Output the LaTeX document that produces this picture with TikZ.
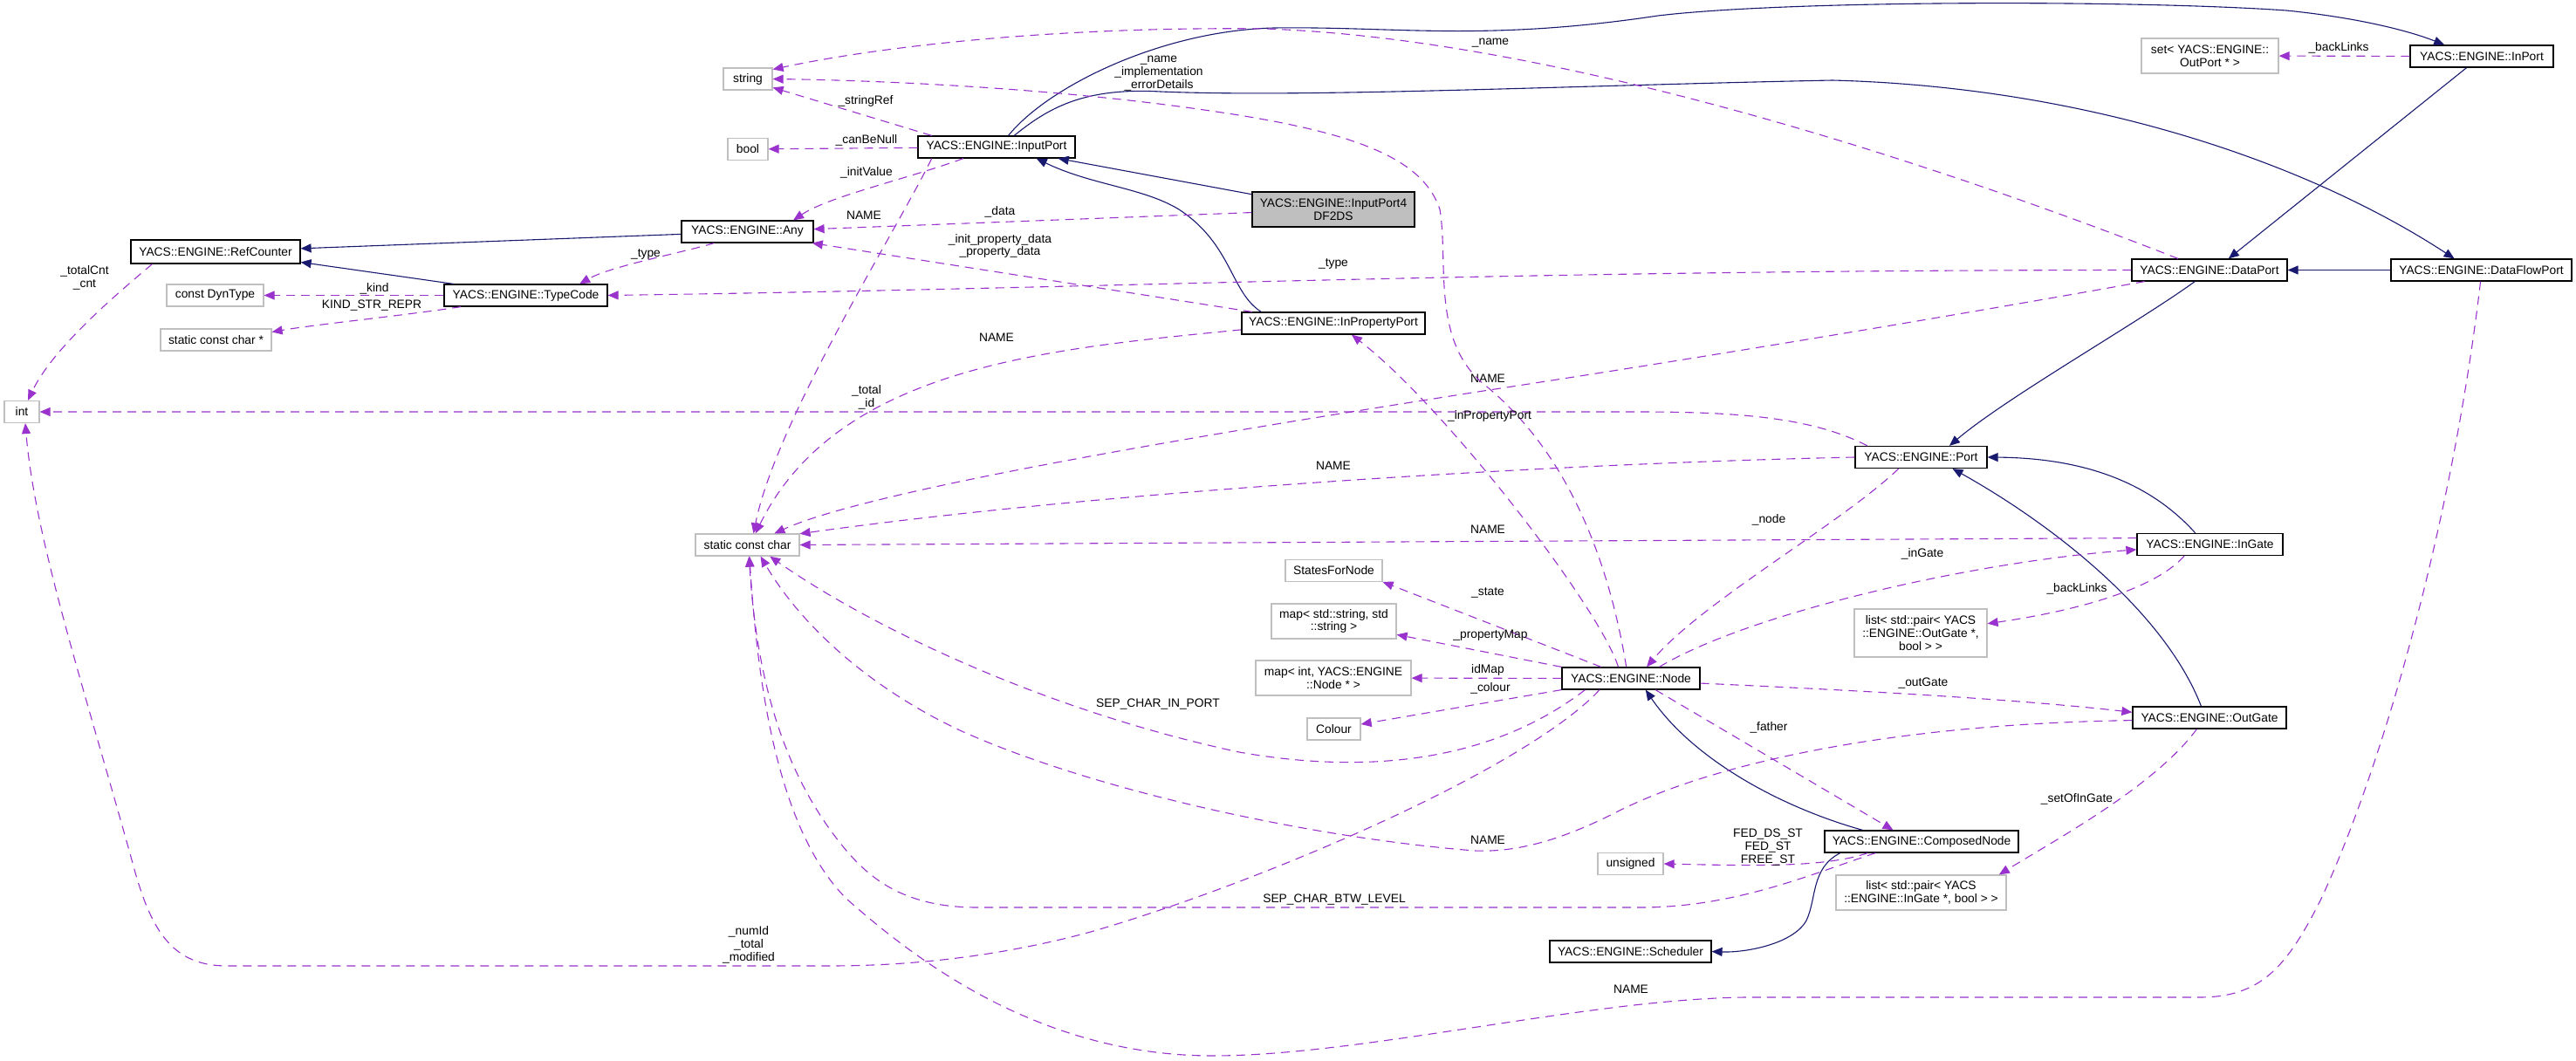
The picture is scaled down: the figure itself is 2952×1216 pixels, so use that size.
\documentclass[tikz,border=0pt]{standalone}
\usepackage{fontspec}
\setmainfont{Liberation Sans}
\usetikzlibrary{positioning,arrows.meta}
\definecolor{edgeblue}{HTML}{191970}
\definecolor{edgepurple}{HTML}{9A32CD}
\definecolor{boxgray}{HTML}{BFBFBF}

\begin{document}
\begin{tikzpicture}[x=0.5pt, y=-0.5pt,
    font=\fontsize{6.9}{7.4}\selectfont,
    cls/.style={rectangle, draw=black, line width=0.6pt, fill=white, align=center, inner sep=1pt, minimum height=12.5pt},
    ext/.style={cls, draw=boxgray},
    self/.style={cls, fill=boxgray},
    inh/.style={draw=edgeblue, line width=0.55pt, -{Triangle[length=6pt,width=5pt]}},
    member/.style={draw=edgepurple, line width=0.55pt, dash pattern=on 5pt off 3.5pt, -{Triangle[length=6pt,width=5pt]}},
    lbl/.style={align=center, inner sep=0pt}]

\useasboundingbox (0,0) rectangle (2952,1216);

\node[ext, minimum width=28pt] (string) at (857,90.5) {string};
\node[ext, minimum width=23pt] (bool) at (857,171) {bool};
\node[cls, minimum width=75.5pt] (any) at (856.5,265.5) {YACS::ENGINE::Any};
\node[cls, minimum width=97pt, minimum height=13.5pt] (refcounter) at (247,288.5) {YACS::ENGINE::RefCounter};
\node[cls, minimum width=93.5pt] (typecode) at (602.5,338.5) {YACS::ENGINE::TypeCode};
\node[ext, minimum width=55.5pt] (dyntype) at (246.5,338.5) {const DynType};
\node[ext, minimum width=63.5pt] (sccs) at (247.5,389.5) {static const char *};
\node[ext, minimum width=20pt] (int) at (25,472) {int};
\node[ext, minimum width=59.5pt] (scc) at (856.5,624.5) {static const char};
\node[cls, minimum width=90pt] (inputport) at (1142,168.5) {YACS::ENGINE::InputPort};
\node[self, minimum width=93pt, minimum height=20pt] (ip4) at (1528,240) {YACS::ENGINE::InputPort4\\DF2DS};
\node[cls, minimum width=105pt] (inprop) at (1528,370.5) {YACS::ENGINE::InPropertyPort};
\node[ext, minimum width=78.5pt, minimum height=20pt] (setout) at (2532.5,64) {set< YACS::ENGINE::\\OutPort * >};
\node[cls, minimum width=82pt] (inport) at (2844,64.5) {YACS::ENGINE::InPort};
\node[cls, minimum width=89pt] (dataport) at (2532,309.5) {YACS::ENGINE::DataPort};
\node[cls, minimum width=103.5pt] (dfport) at (2843.5,309.5) {YACS::ENGINE::DataFlowPort};
\node[cls, minimum width=75.5pt] (port) at (2201.5,524) {YACS::ENGINE::Port};
\node[cls, minimum width=79pt] (node) at (1869,777.5) {YACS::ENGINE::Node};
\node[ext, minimum width=55.5pt] (states) at (1528.5,654) {StatesForNode};
\node[ext, minimum width=71.5pt, minimum height=20pt] (mapss) at (1528.5,712) {map< std::string, std\\::string >};
\node[ext, minimum width=89pt, minimum height=20pt] (mapin) at (1528,777) {map< int, YACS::ENGINE\\::Node * >};
\node[ext, minimum width=30.5pt] (colour) at (1528.5,835.5) {Colour};
\node[cls, minimum width=83.5pt] (ingate) at (2532.5,624) {YACS::ENGINE::InGate};
\node[ext, minimum width=76pt, minimum height=27.5pt] (listout) at (2201,725.5) {list< std::pair< YACS\\::ENGINE::OutGate *,\\bool > >};
\node[cls, minimum width=88pt] (outgate) at (2532,822.5) {YACS::ENGINE::OutGate};
\node[ext, minimum width=37.5pt] (unsigned) at (1868.5,990) {unsigned};
\node[cls, minimum width=92.5pt] (scheduler) at (1868.5,1090.5) {YACS::ENGINE::Scheduler};
\node[cls, minimum width=111pt] (composed) at (2202,964.5) {YACS::ENGINE::ComposedNode};
\node[ext, minimum width=97.5pt, minimum height=20pt] (listin) at (2201.5,1023) {list< std::pair< YACS\\::ENGINE::InGate *, bool > >};

\draw[inh] (ip4) -- (inputport);
\draw[inh] (inprop.171) .. controls (1410,335) and (1412,280) .. (1351,240) .. controls (1310,215) and (1250,212) .. (inputport.-16);
\draw[inh] (inputport.44) .. controls (1200,100) and (1330,35) .. (1460,32) .. controls (1600,30) and (1700,48) .. (1900,18) .. controls (2050,0) and (2450,0) .. (2620,12) .. controls (2700,20) and (2760,35) .. (inport.163);
\draw[inh] (inputport.33) .. controls (1200,125) and (1240,100) .. (1330,105) .. controls (1500,112) and (1800,98) .. (2100,92) .. controls (2400,100) and (2650,190) .. (dfport.157);
\draw[inh] (inport.-143) -- (dataport.31);
\draw[inh] (dfport) -- (dataport);
\draw[inh] (dataport.-142) .. controls (2450,370) and (2300,455) .. (port.22);
\draw[inh] (ingate.142) .. controls (2470,560) and (2400,525) .. (port.east);
\draw[inh] (outgate.126) .. controls (2480,700) and (2350,600) .. (port.-20);
\draw[inh] (any) -- (refcounter);
\draw[inh] (typecode.171) -- (refcounter.-7);
\draw[inh] (composed.169) .. controls (2040,925) and (1940,870) .. (node.-38);
\draw[inh] (composed.-172) .. controls (2075,995) and (2082,1030) .. (2070,1055) .. controls (2055,1082) and (2000,1092) .. (scheduler.east);

\draw[member] (inputport.170) -- (string.-19) node[lbl] at (992,116) {\_stringRef};
\draw[member] (inputport) -- (bool) node[lbl] at (993,161) {\_canBeNull};
\draw[member] (inputport.-161) .. controls (1040,205) and (950,225) .. (any.14) node[lbl] at (993,198) {\_initValue};
\draw[member] (inputport.-170) .. controls (1030,260) and (890,480) .. (scc.62) node[lbl] at (990,247) {NAME};
\draw[member] (ip4) -- (any) node[lbl] at (1146,243) {\_data};
\draw[member] (inprop.172) -- (any.-10) node[lbl] at (1146,282) {\_init\_property\_data\\\_property\_data};
\draw[member] (inprop.-176) .. controls (1200,400) and (960,420) .. (scc.55) node[lbl] at (1142,387) {NAME};
\draw[member] (any.-161) .. controls (780,290) and (700,305) .. (typecode.12) node[lbl] at (740,291) {\_type};
\draw[member] (typecode) -- (dyntype) node[lbl] at (429,331) {\_kind};
\draw[member] (typecode.-170) .. controls (460,362) and (360,372) .. (sccs.8) node[lbl] at (426,350) {KIND\_STR\_REPR};
\draw[member] (refcounter.-169) .. controls (130,340) and (60,400) .. (int.62) node[lbl] at (97,318) {\_totalCnt\\\_cnt};
\draw[member] (inport) -- (setout) node[lbl] at (2680,55) {\_backLinks};
\draw[member] (dataport.west) .. controls (1700,310) and (1300,330) .. (typecode.east) node[lbl] at (1528,302) {\_type};
\draw[member] (dataport.160) .. controls (2250,200) and (1800,45) .. (1450,33) .. controls (1200,30) and (1000,55) .. (string.21) node[lbl] at (1708,49) {\_name};
\draw[member] (dataport.-170) .. controls (2250,360) and (1950,410) .. (1700,448) .. controls (1400,495) and (1000,560) .. (scc.23) node[lbl] at (1705,434) {NAME};
\draw[member] (dfport.-94) .. controls (2810,600) and (2730,880) .. (2660,1030) .. controls (2620,1110) and (2590,1143) .. (2520,1143) -- (2000,1143) .. controls (1820,1145) and (1560,1210) .. (1390,1210) .. controls (1200,1210) and (1060,1110) .. (970,1030) .. controls (890,950) and (868,780) .. (scc.-80) node[lbl] at (1869,1134) {NAME};
\draw[member] (port.168) .. controls (2080,480) and (2000,472) .. (1880,472) -- (int.east) node[lbl] at (993,455) {\_total\\\_id};
\draw[member] (port.west) .. controls (1750,532) and (1250,565) .. (scc.12) node[lbl] at (1528,534) {NAME};
\draw[member] (port.-153) .. controls (2110,600) and (1950,690) .. (node.36) node[lbl] at (2027,596) {\_node};
\draw[member] (ingate.175) -- (scc.east) node[lbl] at (1705,607) {NAME};
\draw[member] (ingate.-156) .. controls (2470,675) and (2380,700) .. (listout.8) node[lbl] at (2380,675) {\_backLinks};
\draw[member] (outgate.-138) .. controls (2470,900) and (2360,960) .. (listin.13) node[lbl] at (2380,916) {\_setOfInGate};
\draw[member] (outgate.-178) .. controls (2150,830) and (1950,880) .. (1850,932) .. controls (1790,962) and (1740,977) .. (1690,975) .. controls (1500,960) and (1250,905) .. (1100,837) .. controls (1000,790) and (920,720) .. (scc.-41) node[lbl] at (1705,963) {NAME};
\draw[member] (node.112) .. controls (1845,650) and (1800,520) .. (1700,440) .. controls (1640,390) and (1660,300) .. (1650,240) .. controls (1630,180) and (1550,150) .. (1380,126) .. controls (1200,100) and (1000,92) .. (string.east) node[lbl] at (1328,84) {\_name\\\_implementation\\\_errorDetails};
\draw[member] (node.138) .. controls (1835,700) and (1660,470) .. (inprop.-32) node[lbl] at (1707,477) {\_inPropertyPort};
\draw[member] (node.159) -- (states.-13) node[lbl] at (1705,679) {\_state};
\draw[member] (node.north west) -- (mapss.-12) node[lbl] at (1708,728) {\_propertyMap};
\draw[member] (node) -- (mapin) node[lbl] at (1705,768) {idMap};
\draw[member] (node.south west) -- (colour.10) node[lbl] at (1708,789) {\_colour};
\draw[member] (node.22) .. controls (2000,705) and (2250,645) .. (ingate.-176) node[lbl] at (2203,635) {\_inGate};
\draw[member] (node.-4) .. controls (2100,790) and (2300,800) .. (outgate.176) node[lbl] at (2204,783) {\_outGate};
\draw[member] (node.-25) -- (composed.158) node[lbl] at (2027,834) {\_father};
\draw[member] (node.-166) .. controls (1700,880) and (1550,885) .. (1420,862) .. controls (1200,815) and (1000,720) .. (scc.-27) node[lbl] at (1327,807) {SEP\_CHAR\_IN\_PORT};
\draw[member] (node.-160) .. controls (1750,880) and (1450,1010) .. (1250,1068) .. controls (1150,1095) and (1050,1107) .. (950,1107) -- (260,1107) .. controls (200,1107) and (175,1070) .. (155,1000) .. controls (100,800) and (40,620) .. (int.-73) node[lbl] at (858,1083) {\_numId\\\_total\\\_modified};
\draw[member] (composed.-168) .. controls (2090,995) and (2000,992) .. (unsigned.east) node[lbl] at (2026,971) {FED\_DS\_ST\\FED\_ST\\FREE\_ST};
\draw[member] (composed.-166) .. controls (2080,1000) and (1990,1040) .. (1880,1040) -- (1120,1040) .. controls (1040,1040) and (1000,1010) .. (970,975) .. controls (890,880) and (866,760) .. (scc.-82) node[lbl] at (1529,1031) {SEP\_CHAR\_BTW\_LEVEL};
\end{tikzpicture}
\end{document}
